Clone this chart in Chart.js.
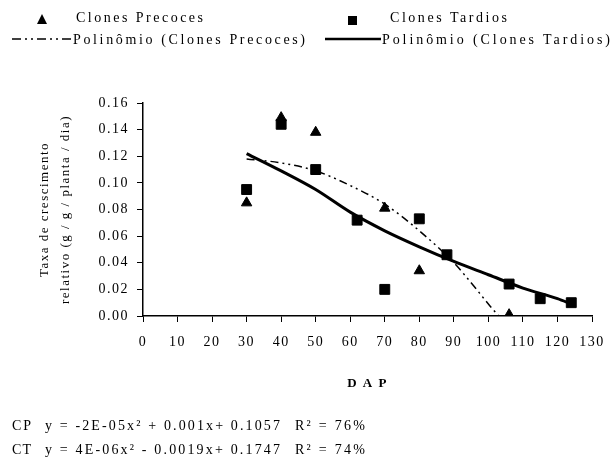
<!DOCTYPE html>
<html>
<head>
<meta charset="utf-8">
<script src="https://cdn.jsdelivr.net/npm/chart.js@4.4.0/dist/chart.umd.min.js"></script>
<style>
body{margin:0;background:#fff;}
#wrap{position:relative;width:615px;height:466px;}
#taxaChart{position:absolute;left:0;top:0;}
svg{position:absolute;left:0;top:0;}
svg text{font-family:"Liberation Serif",serif;font-size:14px;fill:#000;}
</style>
</head>
<body>
<div id="wrap">
<canvas id="taxaChart" width="615" height="466"></canvas>
<svg width="615" height="466">
  <!-- legenda -->
  <polygon points="37,24 42,14 47,24" fill="#000"/>
  <text x="76" y="22" textLength="127" lengthAdjust="spacing">Clones Precoces</text>
  <rect x="348" y="16" width="9" height="9" fill="#000"/>
  <text x="390" y="22" textLength="117" lengthAdjust="spacing">Clones Tardios</text>
  <line x1="12" y1="39" x2="72" y2="39" stroke="#000" stroke-width="1.5" stroke-dasharray="9,4,2,4,2,4"/>
  <text x="73" y="44" textLength="232" lengthAdjust="spacing">Polinômio (Clones Precoces)</text>
  <line x1="325" y1="39" x2="381" y2="39" stroke="#000" stroke-width="2.5"/>
  <text x="382" y="44" textLength="228" lengthAdjust="spacing">Polinômio (Clones Tardios)</text>
  <!-- equacoes -->
  <text x="12" y="430" textLength="19" lengthAdjust="spacing">CP</text>
  <text x="45" y="430" textLength="235" lengthAdjust="spacing">y = -2E-05x² + 0.001x+ 0.1057</text>
  <text x="295" y="430" textLength="70" lengthAdjust="spacing">R² = 76%</text>
  <text x="12" y="454" textLength="19" lengthAdjust="spacing">CT</text>
  <text x="45" y="454" textLength="235" lengthAdjust="spacing">y = 4E-06x² - 0.0019x+ 0.1747</text>
  <text x="295" y="454" textLength="70" lengthAdjust="spacing">R² = 74%</text>
</svg>
</div>
<script>
// valores
var dapPrecoces = [30, 40, 50, 70, 80, 106];
var taxaPrecoces = [0.085, 0.149, 0.138, 0.081, 0.034, 0.001];
var dapTardios = [30, 40, 50, 62, 70, 80, 88, 106, 115, 124];
var taxaTardios = [0.095, 0.144, 0.110, 0.072, 0.020, 0.073, 0.046, 0.024, 0.013, 0.010];

// curvas de tendencia (polinomio)
var curvaPrecocesX = [30, 40, 50, 60, 70, 80, 90, 95, 100, 103];
var curvaPrecocesY = [0.118, 0.115, 0.109, 0.098, 0.084, 0.064, 0.040, 0.025, 0.009, 0.0];
var curvaTardiosX = [30, 40, 50, 60, 70, 80, 90, 100, 110, 120, 124];
var curvaTardiosY = [0.122, 0.109, 0.095, 0.078, 0.064, 0.052, 0.041, 0.031, 0.021, 0.013, 0.009];

var yTitulo = ['Taxa de crescimento', 'relativo (g / g / planta / dia)'];
var xTitulo = 'D A P';

function pares(xs, ys){
    var out = [];
    for (var i = 0; i < xs.length; i++) out.push({x: xs[i], y: ys[i]});
    return out;
}

var tickFont = {family: '"Liberation Serif", serif', size: 14};

var spacing = {
    id: 'spacing',
    beforeDraw: function(chart){ chart.ctx.letterSpacing = '1.5px'; }
};

var ctx = document.getElementById('taxaChart').getContext('2d');

var taxaChart = new Chart(ctx, {
    type: 'scatter',
    data: {
        datasets: [{
            label: 'Clones Precoces',
            data: pares(dapPrecoces, taxaPrecoces),
            pointStyle: 'triangle',
            pointRadius: 6,
            backgroundColor: '#000',
            borderColor: '#000'
        }, {
            label: 'Clones Tardios',
            data: pares(dapTardios, taxaTardios),
            pointStyle: 'rect',
            pointRadius: 7,
            backgroundColor: '#000',
            borderColor: '#000'
        }, {
            label: 'Polinômio (Clones Precoces)',
            data: pares(curvaPrecocesX, curvaPrecocesY),
            showLine: true,
            pointRadius: 0,
            borderColor: '#000',
            borderWidth: 1.5,
            borderDash: [8, 4, 2, 4, 2, 4],
            cubicInterpolationMode: 'monotone',
            fill: false
        }, {
            label: 'Polinômio (Clones Tardios)',
            data: pares(curvaTardiosX, curvaTardiosY),
            showLine: true,
            pointRadius: 0,
            borderColor: '#000',
            borderWidth: 3,
            cubicInterpolationMode: 'monotone',
            fill: false
        }]
    },
    options: {
        responsive: false,
        animation: false,
        devicePixelRatio: 1,
        layout: {padding: {left: 34, top: 103, right: 23, bottom: 75}},
        plugins: {legend: {display: false}, tooltip: {enabled: false}},
        scales: {
            x: {
                type: 'linear',
                min: 0, max: 130,
                ticks: {stepSize: 10, color: '#000', font: tickFont, padding: 12, maxRotation: 0},
                grid: {drawOnChartArea: false, drawTicks: true, tickLength: 6, color: '#000'},
                border: {color: '#000', width: 1.5},
                title: {display: true, text: xTitulo, color: '#000', font: {family: '"Liberation Serif", serif', size: 13, weight: 'bold'}, padding: 0},
                afterFit: function(s){ s.height = 75; }
            },
            y: {
                min: 0, max: 0.16,
                ticks: {stepSize: 0.02, color: '#000', font: tickFont, padding: 8,
                    callback: function(v){ return v.toFixed(2); }},
                grid: {drawOnChartArea: false, drawTicks: true, tickLength: 6, color: '#000'},
                border: {color: '#000', width: 1.5},
                title: {display: true, text: yTitulo, color: '#000', font: {family: '"Liberation Serif", serif', size: 13, lineHeight: 1.6}, padding: 0},
                afterFit: function(s){ s.width = 109; }
            }
        }
    },
    plugins: [spacing]
});
</script>
</body>
</html>
